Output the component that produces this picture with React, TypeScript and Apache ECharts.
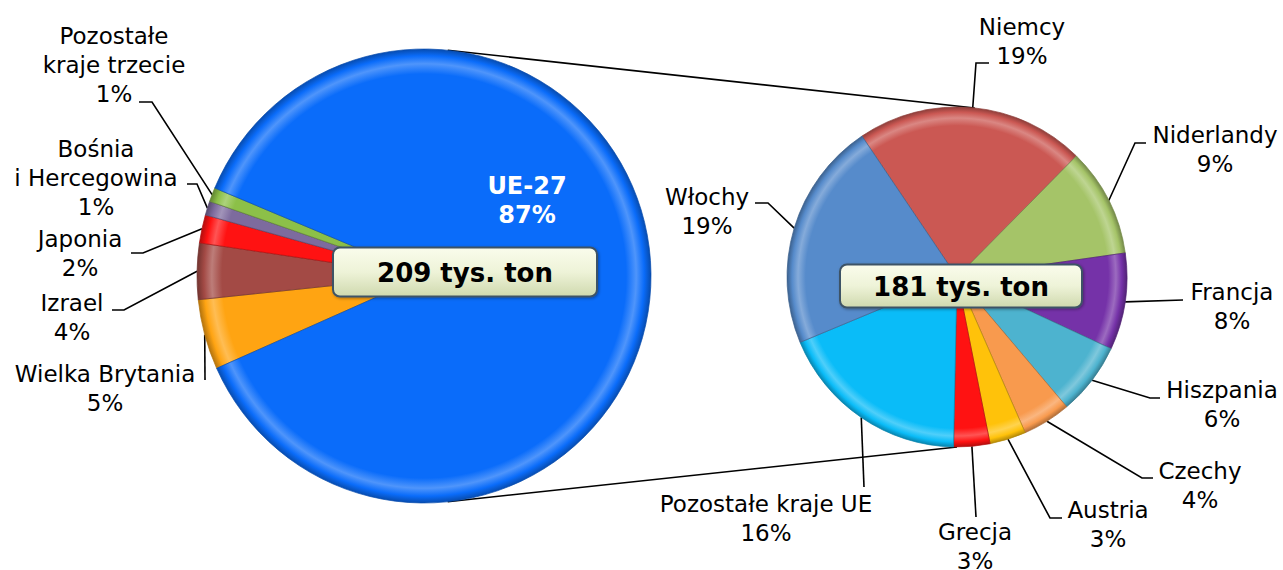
import React, { useEffect, useRef } from "react";
import * as echarts from "echarts";

// ---------- data ----------
const leftNames = [
  "Wielka Brytania",
  "Izrael",
  "Japonia",
  "Bośnia\ni Hercegowina",
  "Pozostałe\nkraje trzecie",
  "UE-27",
];
const leftValues = [5, 4, 2, 1, 1, 87];

const rightNames = [
  "Niemcy",
  "Niderlandy",
  "Francja",
  "Hiszpania",
  "Czechy",
  "Austria",
  "Grecja",
  "Pozostałe kraje UE",
  "Włochy",
];
const rightValues = [19, 9, 8, 6, 4, 3, 3, 16, 19];

const totals = [209, 181];
const totalUnit = "tys. ton";

// ---------- styles / layout ----------
const leftColors = ["#FFA412", "#A34A45", "#FF1212", "#7D6B9E", "#8CC048", "#0A6CFA"];
const rightColors = [
  "#CB5853",
  "#A5C468",
  "#7532A8",
  "#4DB3CF",
  "#F89A4E",
  "#FFC20A",
  "#FF1212",
  "#0ABCF8",
  "#568BCB",
];

const LEFT = { cx: 424, cy: 276, r: 227, start: 204 };
const RIGHT = { cx: 957, cy: 277, r: 170, start: 124 };

type LabelPos = { x: number; y: number; line: number[][] | null };

const leftLabelPos: LabelPos[] = [
  { x: 105, y: 388, line: [[205, 380]] },
  { x: 72, y: 317, line: [[124, 310], [112, 310]] },
  { x: 80, y: 253, line: [[143, 253], [131, 253]] },
  { x: 96, y: 178, line: [[197, 184], [187, 184]] },
  { x: 114, y: 65, line: [[152, 102], [139, 102]] },
  { x: 527, y: 200, line: null },
];

const rightLabelPos: LabelPos[] = [
  { x: 1022, y: 41, line: [[976, 63], [989, 63]] },
  { x: 1215, y: 149, line: [[1135, 143], [1146, 143]] },
  { x: 1232, y: 306, line: [[1183, 300]] },
  { x: 1222, y: 404, line: [[1150, 398], [1160, 398]] },
  { x: 1200, y: 485, line: [[1142, 478], [1153, 478]] },
  { x: 1108, y: 524, line: [[1050, 518], [1062, 518]] },
  { x: 975, y: 546, line: [[976, 517]] },
  { x: 766, y: 518, line: [[864, 487]] },
  { x: 707, y: 211, line: [[768, 203], [755, 203]] },
];

const FONT = "DejaVu Sans";

function hexToRgb(h: string): number[] {
  const v = h.replace("#", "");
  return [0, 2, 4].map((i) => parseInt(v.slice(i, i + 2), 16));
}
function mix(c: string, target: string, t: number): string {
  const a = hexToRgb(c);
  const b = hexToRgb(target);
  const m = a.map((v, i) => Math.round(v + (b[i] - v) * t));
  return `rgb(${m[0]},${m[1]},${m[2]})`;
}
function shade(color: string, c: { cx: number; cy: number; r: number }) {
  return {
    type: "radial",
    x: c.cx,
    y: c.cy,
    r: c.r,
    global: true,
    colorStops: [
      { offset: 0, color: mix(color, "#000000", 0.12) },
      { offset: 0.08, color: color },
      { offset: 0.89, color: color },
      { offset: 0.935, color: mix(color, "#ffffff", 0.28) },
      { offset: 0.97, color: color },
      { offset: 1, color: mix(color, "#000000", 0.3) },
    ],
  };
}

function rimPoint(c: { cx: number; cy: number; r: number }, deg: number) {
  const a = (deg * Math.PI) / 180;
  return [c.cx + c.r * Math.sin(a), c.cy - c.r * Math.cos(a)];
}

function buildData(names: string[], values: number[], colors: string[], geo: any) {
  return names.map((n, i) => ({
    name: n,
    value: values[i],
    itemStyle: {
      color: shade(colors[i], geo),
      borderColor: mix(colors[i], "#000000", 0.3),
      borderWidth: 0.7,
    },
  }));
}

function makeBox(cx: number, cy: number, w: number, h: number, text: string) {
  return {
    type: "group",
    z: 100,
    children: [
      {
        type: "rect",
        z: 100,
        shape: { x: cx - w / 2, y: cy - h / 2, width: w, height: h, r: 7 },
        style: {
          fill: {
            type: "linear",
            x: 0,
            y: 0,
            x2: 0,
            y2: 1,
            colorStops: [
              { offset: 0, color: "#FAFCEC" },
              { offset: 0.5, color: "#EEF3D8" },
              { offset: 1, color: "#CFD9AE" },
            ],
          },
          stroke: "#3E5366",
          lineWidth: 2,
          shadowBlur: 3,
          shadowColor: "rgba(0,0,0,0.35)",
          shadowOffsetX: 1,
          shadowOffsetY: 1,
        },
      },
      {
        type: "text",
        z: 101,
        x: cx,
        y: cy + 1,
        style: {
          text,
          fill: "#000",
          font: `bold 26px "${FONT}"`,
          textAlign: "center",
          textVerticalAlign: "middle",
        },
      },
    ],
  };
}

function buildOption() {
  const lt = rimPoint(LEFT, 6);
  const lb = rimPoint(LEFT, 174);
  const rt = rimPoint(RIGHT, 6);
  const rb = rimPoint(RIGHT, 180);

  const leftData: any[] = buildData(leftNames, leftValues, leftColors, LEFT);
  const ue = leftData[leftData.length - 1];
  ue.label = { color: "#ffffff", fontWeight: "bold", fontSize: 24, lineHeight: 29 };
  ue.labelLine = { show: false };

  const labelCommon = {
    show: true,
    position: "outside",
    formatter: "{b}\n{c}%",
    fontFamily: FONT,
    fontSize: 23,
    lineHeight: 29,
    color: "#000",
  };
  const lineCommon = { show: true, lineStyle: { color: "#000", width: 1.6 } };

  const layoutFn = (positions: LabelPos[]) => (params: any) => {
    const p = positions[params.dataIndex];
    if (!p) return {};
    const res: any = { x: p.x, y: p.y, align: "center", verticalAlign: "middle" };
    if (p.line && params.labelLinePoints && params.labelLinePoints[0]) {
      res.labelLinePoints = [params.labelLinePoints[0], ...p.line];
    }
    return res;
  };

  return {
    animation: false,
    backgroundColor: "#ffffff",
    textStyle: { fontFamily: FONT },
    series: [
      {
        type: "pie",
        center: [LEFT.cx, LEFT.cy],
        radius: LEFT.r,
        startAngle: LEFT.start,
        clockwise: true,
        avoidLabelOverlap: false,
        silent: true,
        data: leftData,
        label: labelCommon,
        labelLine: lineCommon,
        labelLayout: layoutFn(leftLabelPos),
      },
      {
        type: "pie",
        center: [RIGHT.cx, RIGHT.cy],
        radius: RIGHT.r,
        startAngle: RIGHT.start,
        clockwise: true,
        avoidLabelOverlap: false,
        silent: true,
        data: buildData(rightNames, rightValues, rightColors, RIGHT),
        label: labelCommon,
        labelLine: lineCommon,
        labelLayout: layoutFn(rightLabelPos),
      },
    ],
    graphic: [
      {
        type: "line",
        z: 1,
        shape: { x1: lt[0], y1: lt[1], x2: rt[0], y2: rt[1] },
        style: { stroke: "#000", lineWidth: 1.6 },
      },
      {
        type: "line",
        z: 1,
        shape: { x1: lb[0], y1: lb[1], x2: rb[0], y2: rb[1] },
        style: { stroke: "#000", lineWidth: 1.6 },
      },
      makeBox(465, 272, 264, 49, `${totals[0]} ${totalUnit}`),
      makeBox(961, 286, 242, 43, `${totals[1]} ${totalUnit}`),
    ],
  };
}

export default function App() {
  const ref = useRef<HTMLDivElement>(null);
  useEffect(() => {
    if (!ref.current) return;
    const chart = echarts.init(ref.current, null, { renderer: "svg" });
    chart.setOption(buildOption() as any);
    return () => chart.dispose();
  }, []);
  return (
    <div
      ref={ref}
      style={{ position: "fixed", left: 0, top: 0, width: 1283, height: 570, background: "#fff" }}
    />
  );
}
